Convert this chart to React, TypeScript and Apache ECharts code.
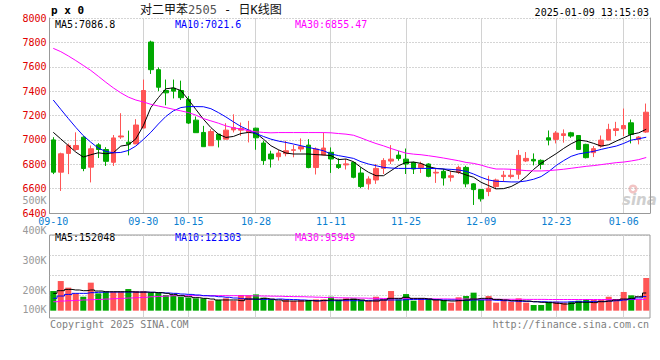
import React, { useEffect, useRef } from 'react';
import * as echarts from 'echarts';

const dates = ['09-10','09-11','09-12','09-13','09-18','09-19','09-20','09-23','09-24','09-25','09-26','09-27','09-30','10-08','10-09','10-10','10-11','10-14','10-15','10-16','10-17','10-18','10-21','10-22','10-23','10-24','10-25','10-28','10-29','10-30','10-31','11-01','11-04','11-05','11-06','11-07','11-08','11-11','11-12','11-13','11-14','11-15','11-18','11-19','11-20','11-21','11-22','11-25','11-26','11-27','11-28','11-29','12-02','12-03','12-04','12-05','12-06','12-09','12-10','12-11','12-12','12-13','12-16','12-17','12-18','12-19','12-20','12-23','12-24','12-25','12-26','12-27','12-30','12-31','01-02','01-03','01-06','01-07','01-08','01-09'];
const labelDates = ['09-10','09-30','10-15','10-28','11-11','11-25','12-09','12-23','01-06'];

const opens = [7000,6735,6889,6921,7022,6776,6959,6921,6816,7024,6981,6967,7097,7803,7576,7405,7424,7405,7332,7162,7061,6952,7047,7006,7082,7080,7061,7096,6974,6884,6862,6887,6914,6925,6957,6773,6876,6898,6797,6795,6815,6728,6639,6671,6766,6826,6875,6842,6815,6772,6802,6728,6742,6693,6734,6774,6639,6592,6576,6617,6699,6699,6718,6827,6840,6832,7017,7004,7036,7058,7036,6963,6895,6949,6998,7077,7091,7140,7004,7064];
const closes = [6735,6886,6954,6954,6765,6927,6921,6824,7016,7032,6965,7122,7405,7576,7432,7386,7400,7346,7138,7059,6944,7069,7001,7080,7101,7093,7080,7017,6830,6843,6892,6911,6919,6944,6773,6925,6933,6843,6773,6803,6693,6617,6679,6766,6831,6842,6848,6802,6761,6802,6701,6734,6687,6706,6774,6639,6592,6516,6603,6671,6710,6710,6873,6848,6827,6799,6998,7056,7050,7031,6922,6854,6928,6998,7086,7091,7118,7045,7023,7227];
const lows = [6719,6581,6719,6910,6743,6651,6851,6786,6786,7008,6873,6967,7097,7541,7400,7284,7340,7327,7130,7059,6944,6952,6938,7006,7061,7033,6979,6919,6795,6773,6830,6865,6857,6903,6767,6716,6871,6729,6762,6757,6685,6603,6592,6639,6720,6802,6829,6720,6720,6728,6693,6647,6625,6658,6720,6611,6466,6494,6538,6595,6655,6682,6677,6818,6791,6759,6955,6971,6977,7017,6917,6848,6859,6936,6998,7031,7031,6971,6963,7058];
const highs = [7022,6895,6970,7062,7030,6954,6973,6940,7040,7219,7076,7170,7495,7814,7595,7495,7495,7486,7359,7192,7115,7088,7047,7137,7210,7142,7156,7100,6993,6911,6919,6993,6957,7012,7006,6938,7061,6938,6849,6843,6821,6774,6701,6802,6850,6957,6910,6929,6821,6821,6808,6766,6761,6742,6788,6788,6645,6598,6706,6682,6745,6759,6917,6900,6889,6840,7077,7072,7086,7066,7040,6968,6949,7036,7132,7148,7257,7167,7031,7298];

const ma5 = [7062,7008,6954,6900,6859,6878,6894,6886,6894,6949,6959,7008,7116,7265,7346,7419,7427,7405,7330,7250,7170,7101,7047,7020,7028,7052,7061,7055,7006,6952,6919,6892,6884,6884,6884,6879,6876,6871,6838,6843,6821,6774,6734,6706,6706,6747,6788,6815,6818,6807,6780,6766,6761,6742,6734,6712,6693,6652,6625,6598,6600,6617,6650,6699,6758,6808,6848,6887,6930,6968,6998,6990,6971,6949,6960,6990,7017,7045,7058,7086.8];
const ma10 = [7327,7251,7176,7103,7035,6981,6932,6905,6894,6897,6913,6949,7003,7062,7130,7192,7238,7265,7273,7273,7272,7256,7224,7188,7148,7110,7082,7052,7028,7006,6990,6979,6966,6952,6938,6925,6911,6884,6871,6860,6848,6821,6802,6788,6774,6769,6766,6766,6766,6766,6766,6764,6761,6758,6753,6742,6720,6693,6671,6660,6658,6655,6655,6663,6677,6699,6740,6790,6830,6865,6885,6895,6906,6922,6936,6949,6971,6998,7009,7021.6];
const ma30 = [7751,7724,7689,7651,7611,7570,7522,7473,7427,7386,7351,7327,7311,7292,7278,7265,7251,7238,7224,7203,7175,7156,7137,7115,7099,7088,7077,7066,7061,7058,7060,7060,7060,7060,7060,7060,7060,7058,7052,7047,7038,7016,6992,6970,6951,6929,6910,6891,6883,6878,6870,6861,6851,6840,6829,6815,6807,6793,6774,6761,6761,6759,6753,6748,6745,6745,6748,6753,6759,6767,6775,6783,6789,6797,6805,6813,6818,6827,6838,6855.47];

// volumes in thousands of lots
const volumesK = [169,255,198,149,120,241,149,163,163,163,186,169,169,155,155,135,135,120,112,106,106,86,92,106,86,135,132,140,112,97,86,97,83,92,92,97,97,120,92,106,106,92,86,120,97,169,97,143,86,106,106,97,92,69,115,126,155,92,126,69,92,77,106,69,49,49,77,77,69,77,86,100,92,92,120,97,161,132,97,281];
const volMa5K = [149,172,183,178,172,178,169,163,163,163,163,160,160,158,155,149,140,129,120,112,106,100,92,92,92,86,100,100,106,100,92,83,83,83,86,83,89,92,92,97,97,92,83,83,92,106,106,115,106,106,100,92,86,83,86,92,100,106,106,97,92,86,86,83,77,72,69,63,57,63,72,72,69,77,83,92,100,106,120,152.048];
const volMa10K = [106,126,140,149,149,155,158,160,160,160,160,160,160,158,155,152,149,143,140,135,129,126,120,115,109,103,100,97,97,97,100,97,95,92,89,86,86,86,86,86,86,86,89,92,92,92,92,95,97,97,97,95,92,92,89,89,92,92,92,89,86,83,80,80,77,77,74,74,74,77,77,77,80,80,83,86,92,100,110,121.303];
const volMa30K = [77,83,86,89,92,95,97,100,103,106,109,112,115,120,123,126,129,129,129,129,129,129,129,129,129,129,128,127,126,125,124,122,121,120,118,116,114,112,111,110,109,108,107,106,105,104,104,103,103,102,102,101,101,100,100,100,99,99,99,98,98,98,98,97,97,97,96,96,96,96,96,96,96,96,96,96,96,96,96,95.949];

const volTickValues = [100000, 200000, 300000, 400000, 500000];

const PRICE_MIN = 6400;
const PRICE_MAX = 8000;
const VOL_MIN = -63000;
const VOL_MAX = 651000;

const UP = '#ff5555';
const DOWN = '#00a800';
const MONO = '"DejaVu Sans Mono", monospace';
const GRID_LINE = { color: '#aaaaaa', type: [1, 2] as any, width: 1 };

export default function App() {
  const ref = useRef<HTMLDivElement>(null);
  useEffect(() => {
    if (!ref.current) return;
    const chart = echarts.init(ref.current, null, { renderer: 'svg' });
    const isLabel = (i: number) => labelDates.includes(dates[i]);
    const candles = dates.map((_, i) => [opens[i], closes[i], lows[i], highs[i]]);
    const vols = volumesK.map((v, i) => ({
      value: v * 1000,
      itemStyle: { color: closes[i] >= opens[i] ? UP : DOWN },
    }));
    const k = (arr: number[]) => arr.map((v) => Math.round(v * 1000));
    const last = (arr: number[]) => arr[arr.length - 1];
    const gl = { left: 49.5, width: 600.5 };
    const splitIdx = labelDates.slice(1).map((d) => dates.indexOf(d));
    const vLines = (xi: number, yi: number, lo: number, hi: number) => ({
      type: 'custom', xAxisIndex: xi, yAxisIndex: yi, z: 1, silent: true, clip: false,
      data: splitIdx.map((i) => [i, lo, hi]),
      renderItem: (params: any, api: any) => {
        const a = api.coord([api.value(0), api.value(1)]);
        const b = api.coord([api.value(0), api.value(2)]);
        const x = Math.floor(a[0]) + 0.5;
        return {
          type: 'line',
          shape: { x1: x, y1: b[1], x2: x, y2: a[1] },
          style: { stroke: '#d2d2d2', lineWidth: 1 },
        };
      },
    });

    const option: any = {
      animation: false,
      backgroundColor: '#ffffff',
      grid: [
        { ...gl, top: 18, height: 195, show: false },
        { ...gl, top: 235, height: 83, show: true, borderColor: '#999', borderWidth: 1, backgroundColor: 'transparent' },
        { ...gl, top: 200.7, height: 120, show: false },
        { ...gl, top: 235, height: 60, show: false },
      ],
      xAxis: [
        {
          type: 'category', gridIndex: 0, data: dates, boundaryGap: true,
          axisLine: { show: true, lineStyle: { color: '#999' } },
          axisTick: { show: false },
          axisLabel: { interval: (i: number) => isLabel(i), color: '#0a80d0', fontFamily: MONO, fontSize: 10, lineHeight: 9, margin: 3.5, hideOverlap: false },
          splitLine: { show: false },
        },
        {
          type: 'category', gridIndex: 1, data: dates, boundaryGap: true,
          axisLine: { show: false }, axisTick: { show: false }, axisLabel: { show: false }, splitLine: { show: false },
        },
        { type: 'category', gridIndex: 2, data: dates, show: false },
        { type: 'category', gridIndex: 3, data: dates, show: false },
      ],
      yAxis: [
        {
          type: 'value', gridIndex: 0, min: PRICE_MIN, max: PRICE_MAX, interval: 200,
          axisLine: { show: true, lineStyle: { color: '#999' } },
          axisTick: { show: false },
          axisLabel: { color: '#e00000', fontFamily: MONO, fontSize: 10, lineHeight: 9, margin: 3, formatter: (v: number) => String(v) },
          splitLine: { show: true, lineStyle: GRID_LINE },
        },
        {
          type: 'value', gridIndex: 0, position: 'right', min: PRICE_MIN, max: PRICE_MAX,
          axisLine: { show: true, lineStyle: { color: '#999' } },
          axisTick: { show: false }, axisLabel: { show: false }, splitLine: { show: false },
        },
        { type: 'value', gridIndex: 1, min: VOL_MIN, max: VOL_MAX, show: false },
        {
          type: 'value', gridIndex: 2, min: volTickValues[0], max: volTickValues[volTickValues.length - 1], interval: 100000,
          axisLine: { show: false }, axisTick: { show: false }, splitLine: { show: false },
          axisLabel: {
            color: '#999', fontFamily: MONO, fontSize: 10, lineHeight: 9, margin: 3, hideOverlap: false,
            formatter: (v: number) => (v === volTickValues[0] ? `{s|${v / 1000}K}` : `${v / 1000}K`),
            rich: { s: { color: '#999', fontFamily: MONO, fontSize: 10, lineHeight: 9, padding: [0, 0, 23, 0] } },
          },
        },
        {
          type: 'value', gridIndex: 3, min: 0, max: 3, interval: 1,
          axisLine: { show: false }, axisTick: { show: false }, axisLabel: { show: false },
          splitLine: { show: true, lineStyle: GRID_LINE },
        },
      ],
      series: [
        vLines(0, 0, PRICE_MIN, PRICE_MAX),
        vLines(1, 2, VOL_MIN, VOL_MAX),
        {
          type: 'candlestick', xAxisIndex: 0, yAxisIndex: 0, data: candles, barWidth: 5, z: 3,
          itemStyle: { color: UP, color0: DOWN, borderColor: UP, borderColor0: DOWN, borderWidth: 1 },
        },
        { type: 'line', xAxisIndex: 0, yAxisIndex: 0, data: ma5, symbol: 'none', z: 4, lineStyle: { color: '#000000', width: 1 } },
        { type: 'line', xAxisIndex: 0, yAxisIndex: 0, data: ma10, symbol: 'none', z: 4, lineStyle: { color: '#0000ff', width: 1 } },
        { type: 'line', xAxisIndex: 0, yAxisIndex: 0, data: ma30, symbol: 'none', z: 4, lineStyle: { color: '#ff00ff', width: 1 } },
        { type: 'bar', xAxisIndex: 1, yAxisIndex: 2, data: vols, barWidth: 6, z: 3 },
        { type: 'line', xAxisIndex: 1, yAxisIndex: 2, data: k(volMa30K), step: 'middle', symbol: 'none', z: 4, lineStyle: { color: '#ff00ff', width: 1 } },
        { type: 'line', xAxisIndex: 1, yAxisIndex: 2, data: k(volMa10K), step: 'middle', symbol: 'none', z: 4, lineStyle: { color: '#0000ff', width: 1 } },
        { type: 'line', xAxisIndex: 1, yAxisIndex: 2, data: k(volMa5K), step: 'middle', symbol: 'none', z: 4, lineStyle: { color: '#000000', width: 1 } },
      ],
      graphic: [
        { type: 'text', x: 51, y: 10, style: { text: 'p x 0', font: `bold 11px ${MONO}`, fill: '#000', verticalAlign: 'middle' } },
        {
          type: 'text', x: 140, y: 10,
          style: {
            text: '{a|对二甲苯}{b|2505}{a| - 日K线图}', verticalAlign: 'middle',
            rich: {
              a: { fontFamily: '"DejaVu Sans Mono", "Noto Sans CJK SC"', fontSize: 12, fill: '#111' },
              b: { fontFamily: MONO, fontSize: 12, fill: '#555' },
            },
          },
        },
        { type: 'text', x: 649, y: 12, style: { text: '2025-01-09 13:15:03', font: `10px ${MONO}`, fill: '#000', align: 'right', verticalAlign: 'middle' } },
        { type: 'text', x: 55, y: 24, style: { text: `MA5:${last(ma5)}`, font: `10px ${MONO}`, fill: '#000', verticalAlign: 'middle' } },
        { type: 'text', x: 175, y: 24, style: { text: `MA10:${last(ma10)}`, font: `10px ${MONO}`, fill: '#0000ff', verticalAlign: 'middle' } },
        { type: 'text', x: 295, y: 24, style: { text: `MA30:${last(ma30)}`, font: `10px ${MONO}`, fill: '#ff00ff', verticalAlign: 'middle' } },
        { type: 'text', x: 55, y: 237.5, style: { text: `MA5:${Math.round(last(volMa5K) * 1000)}`, font: `10px ${MONO}`, fill: '#000', verticalAlign: 'middle' } },
        { type: 'text', x: 175, y: 237.5, style: { text: `MA10:${Math.round(last(volMa10K) * 1000)}`, font: `10px ${MONO}`, fill: '#0000ff', verticalAlign: 'middle' } },
        { type: 'text', x: 295, y: 237.5, style: { text: `MA30:${Math.round(last(volMa30K) * 1000)}`, font: `10px ${MONO}`, fill: '#ff00ff', verticalAlign: 'middle' } },
        { type: 'text', x: 50, y: 324, style: { text: 'Copyright 2025 SINA.COM', font: `10px ${MONO}`, fill: '#808080', verticalAlign: 'middle' } },
        { type: 'text', x: 649, y: 324, style: { text: 'http://finance.sina.com.cn', font: `10px ${MONO}`, fill: '#808080', align: 'right', verticalAlign: 'middle' } },
        { type: 'ring', shape: { cx: 633, cy: 189, r: 4.5, r0: 2 }, style: { fill: '#f2c4c4' } },
        { type: 'text', x: 622, y: 200, style: { text: 'sina', font: `italic bold 15px "DejaVu Sans", sans-serif`, fill: '#cfcfcf', verticalAlign: 'middle' } },
      ],
    };
    chart.setOption(option);
    return () => chart.dispose();
  }, []);
  return <div ref={ref} style={{ position: 'absolute', left: 0, top: 0, width: 660, height: 360 }} />;
}
